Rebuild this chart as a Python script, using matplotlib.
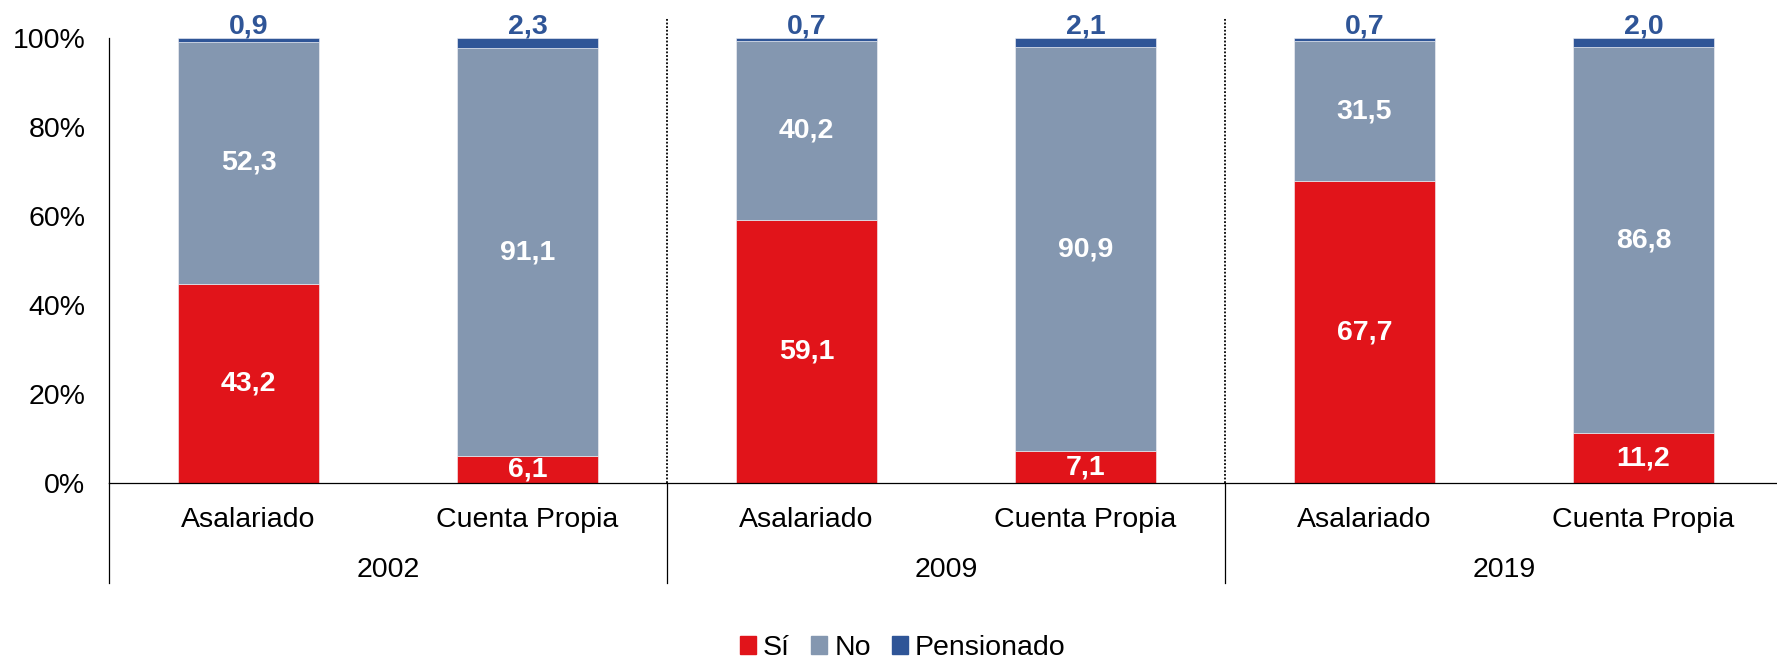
import matplotlib
matplotlib.use("Agg")
import matplotlib.pyplot as plt
import numpy as np
from matplotlib.patches import Patch

plt.rcParams['font.family'] = ['Liberation Sans', 'DejaVu Sans']

# Data: share of workers contributing to a pension system, by worker type and year
years = ['2002', '2009', '2019']
categories = ['Asalariado', 'Cuenta Propia', 'Asalariado', 'Cuenta Propia', 'Asalariado', 'Cuenta Propia']
si = [43.2, 6.1, 59.1, 7.1, 67.7, 11.2]
no = [52.3, 91.1, 40.2, 90.9, 31.5, 86.8]
pensionado = [0.9, 2.3, 0.7, 2.1, 0.7, 2.0]
series_names = ['Sí', 'No', 'Pensionado']

RED = '#E1141A'
GRAY = '#8497B0'
BLUE = '#2F5597'
FS = 20.5
FS_VAL = 20.5

W, H = 1777, 662
fig = plt.figure(figsize=(W / 100, H / 100), dpi=100)

# axes box in pixel terms: x 109..1783, y (top) 38..483
x0, x1, ytop, ybot = 109, 1783, 38, 483
ax = fig.add_axes([x0 / W, (H - ybot) / H, (x1 - x0) / W, (ybot - ytop) / H])


def ay(py):
    """pixel row -> axes-fraction y"""
    return (ybot - py) / (ybot - ytop)


si_a = np.array(si)
no_a = np.array(no)
pe_a = np.array(pensionado)
tot = si_a + no_a + pe_a
si_f = si_a / tot
no_f = no_a / tot
pe_f = pe_a / tot

x = np.arange(len(categories))
bw = 0.505
ax.bar(x, si_f, bw, color=RED, edgecolor='#F4F4F8', linewidth=0.4, zorder=2)
ax.bar(x, no_f, bw, bottom=si_f, color=GRAY, edgecolor='#F4F4F8', linewidth=0.4, zorder=2)
ax.bar(x, pe_f, bw, bottom=si_f + no_f, color=BLUE, edgecolor='#F4F4F8', linewidth=0.4, zorder=2)


def fmt(v):
    return f"{v:.1f}".replace('.', ',')


for i in x:
    ax.text(i, si_f[i] / 2, fmt(si[i]), ha='center', va='center',
            color='white', fontsize=FS_VAL, fontweight='bold', zorder=3)
    ax.text(i, si_f[i] + no_f[i] / 2, fmt(no[i]), ha='center', va='center',
            color='white', fontsize=FS_VAL, fontweight='bold', zorder=3)
    ax.text(i, ay(33), fmt(pensionado[i]), ha='center', va='baseline',
            color=BLUE, fontsize=FS_VAL, fontweight='bold', zorder=3,
            transform=ax.get_xaxis_transform(), clip_on=False)

ax.set_xlim(-0.5, len(categories) - 0.5)
ax.set_ylim(0, 1)
ax.set_yticks(np.linspace(0, 1, 6))
ax.set_yticklabels([f"{int(v)}%" for v in np.linspace(0, 100, 6)], fontsize=FS)
ax.tick_params(axis='y', length=0, pad=17)
ax.set_xticks([])

for s in ['top', 'right']:
    ax.spines[s].set_visible(False)
ax.spines['left'].set_linewidth(0.9)
ax.spines['bottom'].set_linewidth(0.9)

tr = ax.get_xaxis_transform()
# left axis extension into the category area
ax.plot([-0.5, -0.5], [0, ay(583)], color='black', lw=0.9, transform=tr, clip_on=False)
# group separators
for xs in [1.5, 3.5]:
    ax.plot([xs, xs], [0, ay(583)], color='black', lw=0.9, transform=tr, clip_on=False)
    ax.plot([xs, xs], [0, ay(18)], color='black', lw=1.3, linestyle=(0, (1, 1)),
            transform=tr, clip_on=False)

# category and year labels
for i, c in enumerate(categories):
    ax.text(i, ay(527), c, ha='center', va='baseline', fontsize=FS,
            transform=tr, clip_on=False)
for g, yv in enumerate(years):
    ax.text(2 * g + 0.5, ay(577), yv, ha='center', va='baseline', fontsize=FS,
            transform=tr, clip_on=False)

handles = [Patch(color=RED), Patch(color=GRAY), Patch(color=BLUE)]
fig.legend(handles, series_names, loc='center', bbox_to_anchor=(903 / W, (H - 648) / H),
           ncol=3, frameon=False, fontsize=FS, handlelength=0.55, handleheight=0.55,
           handletextpad=0.25, columnspacing=0.75, borderpad=0, borderaxespad=0)

fig.savefig('out.png', dpi=100)
